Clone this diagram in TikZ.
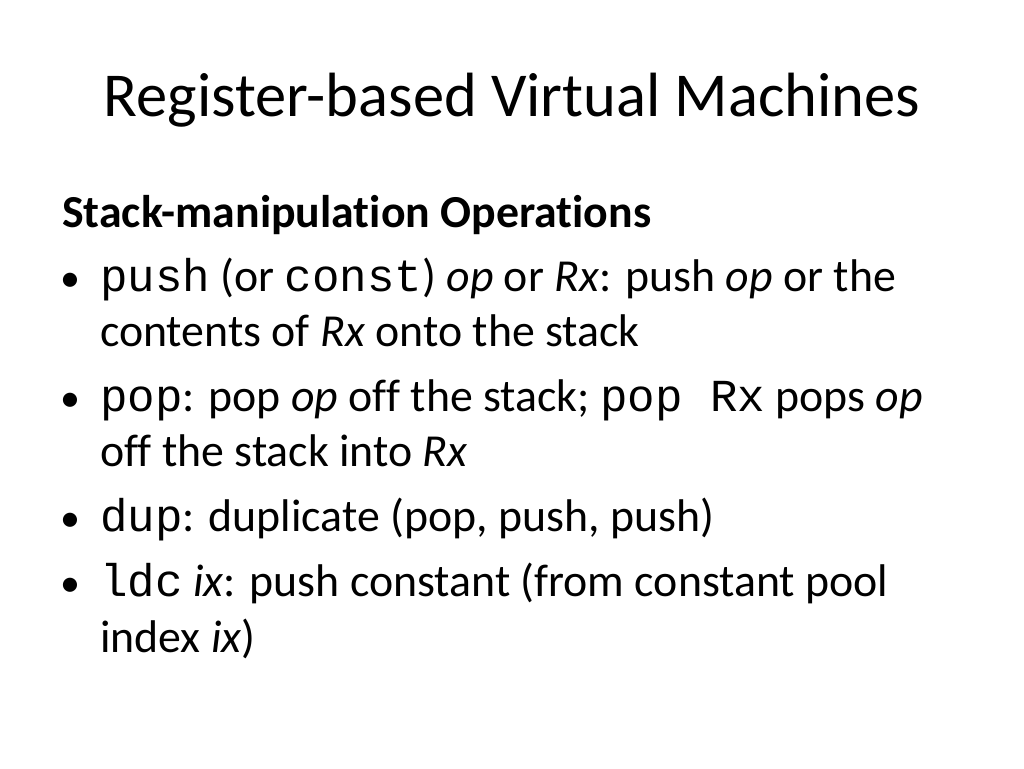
\documentclass[tikz,border=0pt]{standalone}
\usepackage{fontspec}
\setmainfont[Ligatures={NoCommon}]{Carlito}
\setmonofont{Liberation Mono}
\begin{document}
\begin{tikzpicture}[x=1pt,y=1pt,
  line/.style={anchor=base west,inner sep=0pt,font=\fontsize{45.8}{52}\selectfont},
  bul/.style={anchor=base west,inner sep=0pt,font=\fontsize{40}{46}\selectfont}]
\useasboundingbox[fill=white] (0,0) rectangle (1024,768);
\node[anchor=base,inner sep=0pt,font=\fontsize{62.5}{70}\selectfont] (title) at (512,768-117) {Register-based Virtual Machines};
\node[line] (h) at (62,768-228) {\textbf{Stack-manipulation Operations}};
\node[bul] (b1) at (60,768-292) {•};
\node[line] (l1) at (100,768-292) {\texttt{push} (or \texttt{const}) \textit{op} or \textit{Rx}: push \textit{op} or the};
\node[line] (l2) at (100,768-347) {contents of \textit{Rx} onto the stack};
\node[bul] (b2) at (60,768-412) {•};
\node[line] (l3) at (100,768-412) {\texttt{pop}: pop \textit{op} off the stack; \texttt{pop Rx} pops \textit{op}};
\node[line] (l4) at (100,768-467) {off the stack into \textit{Rx}};
\node[bul] (b3) at (60,768-532) {•};
\node[line] (l5) at (100,768-532) {\texttt{dup}: duplicate (pop, push, push)};
\node[bul] (b4) at (60,768-597) {•};
\node[line] (l6) at (100,768-597) {\texttt{ldc} \textit{ix}: push constant (from constant pool};
\node[line] (l7) at (100,768-652) {index \textit{ix})};
\end{tikzpicture}
\end{document}
